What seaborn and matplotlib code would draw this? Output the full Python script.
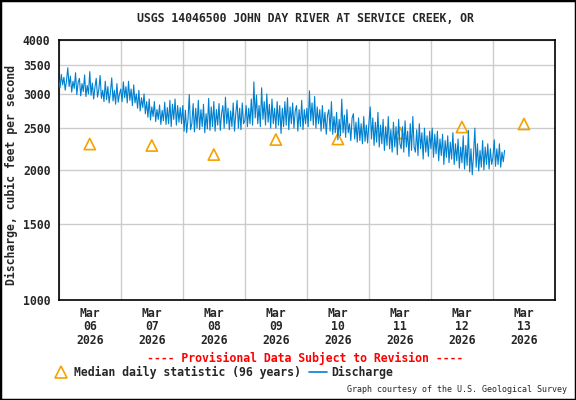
import pandas as pd
import seaborn as sns
import numpy as np
import matplotlib.pyplot as plt
from matplotlib.lines import Line2D
from matplotlib.patches import Rectangle
from matplotlib.ticker import FixedLocator, NullLocator
import matplotlib.dates as mdates

# Discharge (cfs), half-hourly readings starting 2026-03-06 00:00
mar06 = [3230, 3100, 3330, 3150, 3280, 3060, 3220, 3450, 3120, 3300, 3030, 3210,
         3090, 3360, 2990, 3190, 3260, 2970, 3170, 3040, 3320, 2960, 3140, 3000,
         3380, 2980, 3180, 2920, 3110, 3260, 2950, 3070, 3310, 2930, 3060, 2880,
         3210, 2910, 3120, 2860, 3030, 3270, 2890, 3060, 2840, 3170, 2870, 3000]
mar07 = [3080, 2880, 3200, 2940, 3120, 2860, 3210, 2900, 3080, 2820, 3150, 2860,
         3000, 2780, 3060, 2740, 2940, 2790, 3000, 2700, 2880, 2650, 2920, 2610,
         2800, 2660, 2880, 2590, 2760, 2620, 2830, 2550, 2750, 2600, 2870, 2550,
         2790, 2560, 2900, 2520, 2840, 2620, 2920, 2540, 2820, 2580, 2790, 2560]
mar08 = [2820, 2460, 2750, 2440, 2620, 2990, 2480, 2560, 2850, 2450, 2780, 2500,
         2900, 2480, 2760, 2520, 2840, 2440, 2700, 2490, 2930, 2470, 2800, 2520,
         2880, 2460, 2760, 2540, 2850, 2470, 2700, 2820, 2500, 2950, 2560, 2780,
         2480, 2740, 2520, 2860, 2460, 2700, 2900, 2500, 2780, 2480, 2860, 2560]
mar09 = [2600, 2820, 2520, 2780, 2560, 2920, 2540, 3200, 2640, 2980, 2560, 2820,
         2520, 3100, 2620, 2880, 2540, 3000, 2580, 2840, 2500, 2920, 2560, 2780,
         2500, 2880, 2540, 2820, 2430, 2780, 2520, 2880, 2540, 2940, 2480, 2800,
         2560, 2860, 2500, 2740, 2820, 2460, 2760, 2520, 2900, 2480, 2760, 2560]
mar10 = [2780, 2520, 3050, 2600, 2860, 2540, 2960, 2500, 2800, 2560, 2760, 2460,
         2820, 2500, 2720, 2420, 2680, 2760, 2460, 2880, 2420, 2660, 2440, 2720,
         2350, 2620, 2400, 2920, 2440, 2680, 2380, 2760, 2440, 2560, 2340, 2640,
         2700, 2360, 2580, 2320, 2640, 2340, 2560, 2300, 2660, 2330, 2540, 2310]
mar11 = [2560, 2800, 2360, 2640, 2280, 2580, 2320, 2720, 2260, 2540, 2300, 2620,
         2220, 2520, 2280, 2660, 2240, 2480, 2200, 2580, 2260, 2520, 2170, 2620,
         2300, 2240, 2520, 2200, 2600, 2260, 2460, 2150, 2560, 2220, 2660, 2260,
         2200, 2480, 2160, 2560, 2240, 2440, 2120, 2500, 2200, 2400, 2150, 2460]
mar12 = [2240, 2500, 2140, 2420, 2180, 2460, 2100, 2360, 2160, 2420, 2060, 2340,
         2140, 2400, 2080, 2320, 2120, 2440, 2060, 2300, 2100, 2360, 2020, 2260,
         2080, 2400, 2010, 2280, 2050, 2470, 1980, 2240, 1950, 2180, 2500, 2030,
         2300, 1990, 2220, 2030, 2340, 2000, 2260, 2060, 2300, 2010, 2240, 2060]
mar13 = [2140, 2350, 2040, 2240, 2060, 2300, 2030, 2200, 2090, 2220]

# Median daily statistic (96 years), one per day at noon
median_days = ["2026-03-06", "2026-03-07", "2026-03-08", "2026-03-09",
               "2026-03-10", "2026-03-11", "2026-03-12", "2026-03-13"]
median_cfs = [2297, 2279, 2172, 2353, 2360, 2436, 2515, 2556]

day_labels = ["Mar\n06\n2026", "Mar\n07\n2026", "Mar\n08\n2026", "Mar\n09\n2026",
              "Mar\n10\n2026", "Mar\n11\n2026", "Mar\n12\n2026", "Mar\n13\n2026"]
y_ticks = [1000, 1500, 2000, 2500, 3000, 3500, 4000]

cfs = mar06 + mar07 + mar08 + mar09 + mar10 + mar11 + mar12 + mar13
flow = pd.DataFrame({
    "time": pd.date_range("2026-03-06 00:00", periods=len(cfs), freq="30min"),
    "cfs": cfs,
})
noon = pd.to_datetime(median_days) + pd.Timedelta(hours=12)
medians = pd.DataFrame({"time": noon, "cfs": median_cfs})

sns.set_style("white")
plt.rcParams["font.family"] = ["DejaVu Sans Mono", "DejaVu Sans"]
plt.rcParams["font.weight"] = "bold"

blue = "#0080d0"
orange = "#f5a200"
fsize = 8.3

fig = plt.figure(figsize=(5.76, 4.0), dpi=100)
ax = fig.add_axes([0.102, 0.25, 0.8615, 0.65])

sns.lineplot(data=flow, x="time", y="cfs", color=blue, linewidth=0.8,
             estimator=None, ax=ax, zorder=3)
sns.scatterplot(data=medians, x="time", y="cfs", marker="^", s=65,
                facecolors="none", edgecolors=orange, linewidths=1.2,
                ax=ax, zorder=2)

ax.set_yscale("log")
ax.set_ylim(1000, 4000)
ax.yaxis.set_major_locator(FixedLocator(y_ticks))
ax.yaxis.set_minor_locator(NullLocator())
ax.set_yticks(y_ticks)
ax.set_yticklabels([str(v) for v in y_ticks])

ax.set_xlim(pd.Timestamp("2026-03-06"), pd.Timestamp("2026-03-14"))
ax.set_xticks(noon)
ax.set_xticklabels(day_labels, linespacing=1.05)
ax.xaxis.set_minor_locator(mdates.DayLocator())

ax.grid(False)
ax.grid(True, which="minor", axis="x", color="#cccccc", linewidth=1.0)
ax.grid(True, which="major", axis="y", color="#cccccc", linewidth=1.0)
ax.set_axisbelow(True)
ax.tick_params(axis="both", which="both", length=0, labelsize=fsize)
ax.tick_params(axis="x", pad=5)
ax.tick_params(axis="y", pad=6)
for s in ax.spines.values():
    s.set_color("black")
    s.set_linewidth(1.2)

ax.set_xlabel("")
ax.set_ylabel("Discharge, cubic feet per second", fontsize=fsize, fontweight="bold")
ax.yaxis.set_label_coords(-0.083, 0.48)

fig.text(0.531, 1 - 19 / 400, "USGS 14046500 JOHN DAY RIVER AT SERVICE CREEK, OR",
         ha="center", va="center", fontsize=fsize)
fig.text(0.53, 1 - 358 / 400, "---- Provisional Data Subject to Revision ----",
         ha="center", va="center", fontsize=fsize, color="red")
fig.text(0.984, 1 - 389 / 400, "Graph courtesy of the U.S. Geological Survey",
         ha="right", va="center", fontsize=6, fontweight="normal")

handles = [
    Line2D([], [], linestyle="none", marker="^", markersize=8,
           markerfacecolor="none", markeredgecolor=orange, markeredgewidth=1.2),
    Line2D([], [], color=blue, linewidth=1.2),
]
fig.legend(handles, ["Median daily statistic (96 years)", "Discharge"],
           loc="center left", bbox_to_anchor=(52.5 / 576, 1 - 372 / 400),
           ncol=2, frameon=False, fontsize=fsize, handlelength=1.5,
           handletextpad=0.4, columnspacing=0.7, borderpad=0, borderaxespad=0)

fig.patches.append(Rectangle((0, 0), 1, 1, transform=fig.transFigure,
                             fill=False, edgecolor="black", linewidth=2.5))

fig.savefig("out.png", dpi=100)
